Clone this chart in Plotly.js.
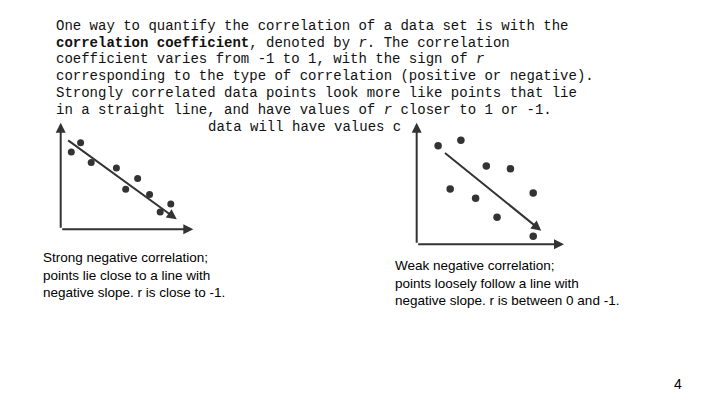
<!DOCTYPE html>
<html>
<head>
<meta charset="utf-8">
<script src="https://cdn.plot.ly/plotly-3.0.1.min.js"></script>
<style>html,body{margin:0;padding:0;background:#fff;}#chart{width:720px;height:405px;}</style>
</head>
<body>
<div id="chart"></div>
<script>
// ---- data ----
const introLines = [
  "One way to quantify the correlation of a data set is with the",
  "<b>correlation coefficient</b>, denoted by <i>r</i>. The correlation",
  "coefficient varies from -1 to 1, with the sign of <i>r</i>",
  "corresponding to the type of correlation (positive or negative).",
  "Strongly correlated data points look more like points that lie",
  "in a straight line, and have values of <i>r</i> closer to 1 or -1."
];
const introTail = "data will have values c";
const leftCaption = ["Strong negative correlation;", "points lie close to a line with", "negative slope. r is close to -1."];
const rightCaption = ["Weak negative correlation;", "points loosely follow a line with", "negative slope. r is between 0 and -1."];
const pageNumber = "4";

const leftX = [0.8, 1.5, 2.3, 4.2, 4.9, 5.8, 6.7, 7.5, 8.3];
const leftY = [5.8, 6.5, 5.0, 4.6, 3.0, 3.8, 2.6, 1.3, 1.9];
const leftTrendX = [0.45, 8.75];
const leftTrendY = [6.75, 0.75];
const leftAxisMax = [10, 8];

const rightX = [1.6, 3.3, 5.2, 7.0, 2.5, 4.4, 8.7, 6.0, 8.7];
const rightY = [7.3, 7.7, 5.8, 5.6, 4.1, 3.4, 3.8, 2.0, 0.6];
const rightTrendX = [2.0, 9.3];
const rightTrendY = [6.85, 1.0];
const rightAxisMax = [11, 9];

// ---- styling ----
const ink = '#333333';
const W = 720, H = 405;
const py = p => 1 - p / H;
const px = p => p / W;

const annotations = [];
introLines.forEach((t, i) => {
  annotations.push({
    text: t, xref: 'paper', yref: 'paper', x: px(54), y: py(25.7 + 16.8 * i),
    xanchor: 'left', yanchor: 'middle', showarrow: false,
    font: {family: 'Liberation Mono, DejaVu Sans Mono, monospace', size: 14, color: '#111'}
  });
});
annotations.push({
  text: introTail, xref: 'paper', yref: 'paper', x: px(205.5), y: py(25.7 + 16.8 * 6),
  xanchor: 'left', yanchor: 'middle', showarrow: false,
  font: {family: 'Liberation Mono, DejaVu Sans Mono, monospace', size: 14, color: '#111'}
});
annotations.push({
  text: leftCaption.join('<br>'), xref: 'paper', yref: 'paper', x: px(40.5), y: py(275),
  xanchor: 'left', yanchor: 'middle', align: 'left', showarrow: false,
  font: {family: 'Liberation Sans, Arial, sans-serif', size: 13.5, color: '#000'}
});
annotations.push({
  text: rightCaption.join('<br>'), xref: 'paper', yref: 'paper', x: px(393.5), y: py(282.7),
  xanchor: 'left', yanchor: 'middle', align: 'left', showarrow: false,
  font: {family: 'Liberation Sans, Arial, sans-serif', size: 13.5, color: '#000'}
});
annotations.push({
  text: pageNumber, xref: 'paper', yref: 'paper', x: px(677.5), y: py(383.5),
  xanchor: 'center', yanchor: 'middle', showarrow: false,
  font: {family: 'Liberation Sans, Arial, sans-serif', size: 14, color: '#000'}
});

function arrow(xr, yr, x0, y0, x1, y1) {
  return {
    xref: xr, yref: yr, axref: xr, ayref: yr,
    x: x1, y: y1, ax: x0, ay: y0, text: '', showarrow: true,
    arrowhead: 2, arrowsize: 1, arrowwidth: 2, arrowcolor: ink, standoff: 0, startstandoff: 0
  };
}
// axes arrows
annotations.push(arrow('x', 'y', 0, 0, leftAxisMax[0], 0));
annotations.push(arrow('x', 'y', 0, 0, 0, leftAxisMax[1]));
annotations.push(arrow('x2', 'y2', 0, 0, rightAxisMax[0], 0));
annotations.push(arrow('x2', 'y2', 0, 0, 0, rightAxisMax[1]));
// trend arrows
annotations.push(arrow('x', 'y', leftTrendX[0], leftTrendY[0], leftTrendX[1], leftTrendY[1]));
annotations.push(arrow('x2', 'y2', rightTrendX[0], rightTrendY[0], rightTrendX[1], rightTrendY[1]));

const traces = [
  {x: leftX, y: leftY, xaxis: 'x', yaxis: 'y', mode: 'markers', type: 'scatter',
   marker: {size: 7, color: ink}, hoverinfo: 'skip', cliponaxis: false},
  {x: rightX, y: rightY, xaxis: 'x2', yaxis: 'y2', mode: 'markers', type: 'scatter',
   marker: {size: 7.5, color: ink}, hoverinfo: 'skip', cliponaxis: false}
];

const hidden = {visible: false, showgrid: false, zeroline: false, fixedrange: true};
const layout = {
  width: W, height: H,
  margin: {l: 0, r: 0, t: 0, b: 0},
  paper_bgcolor: '#ffffff', plot_bgcolor: 'rgba(0,0,0,0)',
  showlegend: false,
  xaxis: Object.assign({}, hidden, {range: [-1, 11], domain: [47.44 / W, 206.6 / W]}),
  yaxis: Object.assign({}, hidden, {range: [-1, 9], domain: [(H - 242.6) / H, (H - 109.3) / H]}),
  xaxis2: Object.assign({}, hidden, {range: [-1, 12], domain: [403.3 / W, 577.4 / W], anchor: 'y2'}),
  yaxis2: Object.assign({}, hidden, {range: [-1, 10], domain: [(H - 257.8) / H, (H - 109.2) / H], anchor: 'x2'}),
  annotations: annotations
};

Plotly.newPlot('chart', traces, layout, {staticPlot: true, displayModeBar: false});
</script>
</body>
</html>
